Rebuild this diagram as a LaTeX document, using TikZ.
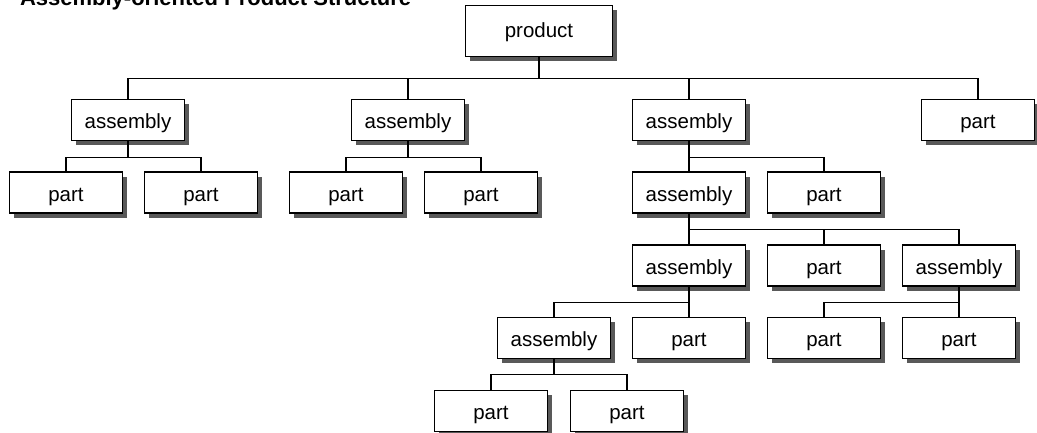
\documentclass[tikz,border=0pt]{standalone}
\usepackage{fontspec}
\setmainfont{Liberation Sans}
\usetikzlibrary{shadows,calc}

\tikzset{
  item/.style={draw, line width=1.6pt, fill=white, inner sep=0pt,
    minimum width=113pt, minimum height=41pt,
    font=\fontsize{20.5}{24}\selectfont, text height=20pt, text depth=3pt,
    drop shadow={shadow xshift=4.5pt, shadow yshift=-4.5pt, fill=black!65, opacity=1}},
  rootitem/.style={item, minimum width=147pt, minimum height=51pt,
    text height=16pt, text depth=3pt},
  stem/.style={line width=2pt},
  bus/.style={line width=1.3pt},
}

\begin{document}
\begin{tikzpicture}[x=1pt, y=-1pt]
  \useasboundingbox (0,0) rectangle (1037,432);
  \clip (0,0) rectangle (1037,432);

  \node[anchor=base west, font=\bfseries\fontsize{22}{26}\selectfont] (title) at (16.5,5.8)
    {Assembly-oriented Product Structure};

  % boxes, row by row
  \node[rootitem] (prod) at (539,31) {product};

  \node[item] (a1) at (128,120) {assembly};
  \node[item] (a2) at (408,120) {assembly};
  \node[item] (a3) at (689,120) {assembly};
  \node[item] (p0) at (978,120) {part};

  \node[item] (p11) at (66,192.5)  {part};
  \node[item] (p12) at (201,192.5) {part};
  \node[item] (p21) at (346,192.5) {part};
  \node[item] (p22) at (481,192.5) {part};
  \node[item] (a31) at (689,192.5) {assembly};
  \node[item] (p32) at (824,192.5) {part};

  \node[item] (a311) at (689,265.5) {assembly};
  \node[item] (p312) at (824,265.5) {part};
  \node[item] (a313) at (959,265.5) {assembly};

  \node[item] (a3111) at (554,338) {assembly};
  \node[item] (p3112) at (689,338) {part};
  \node[item] (p3131) at (824,338) {part};
  \node[item] (p3132) at (959,338) {part};

  \node[item] (p31111) at (491,411) {part};
  \node[item] (p31112) at (627,411) {part};

  % junctions where each parent's stem meets its bus
  \coordinate (j0)    at ($(prod.south)+(0,21)$);
  \coordinate (j1)    at ($(a1.south)+(0,16)$);
  \coordinate (j2)    at ($(a2.south)+(0,16)$);
  \coordinate (j3)    at ($(a3.south)+(0,16)$);
  \coordinate (j31)   at ($(a31.south)+(0,15.5)$);
  \coordinate (j311)  at ($(a311.south)+(0,16)$);
  \coordinate (j313)  at ($(a313.south)+(0,16)$);
  \coordinate (j3111) at ($(a3111.south)+(0,15.5)$);

  % stems
  \foreach \pa/\j in {prod/j0, a1/j1, a2/j2, a3/j3, a31/j31, a311/j311, a313/j313, a3111/j3111}
    \draw[stem] (\pa.south) -- (\j);

  % buses and drops
  \foreach \j/\ch in {j0/a1, j0/a2, j0/a3, j0/p0,
                      j1/p11, j1/p12, j2/p21, j2/p22,
                      j3/a31, j3/p32,
                      j31/a311, j31/p312, j31/a313,
                      j311/a3111, j311/p3112,
                      j313/p3131, j313/p3132,
                      j3111/p31111, j3111/p31112}
    \draw[bus] (\j) -| (\ch.north);
\end{tikzpicture}
\end{document}
